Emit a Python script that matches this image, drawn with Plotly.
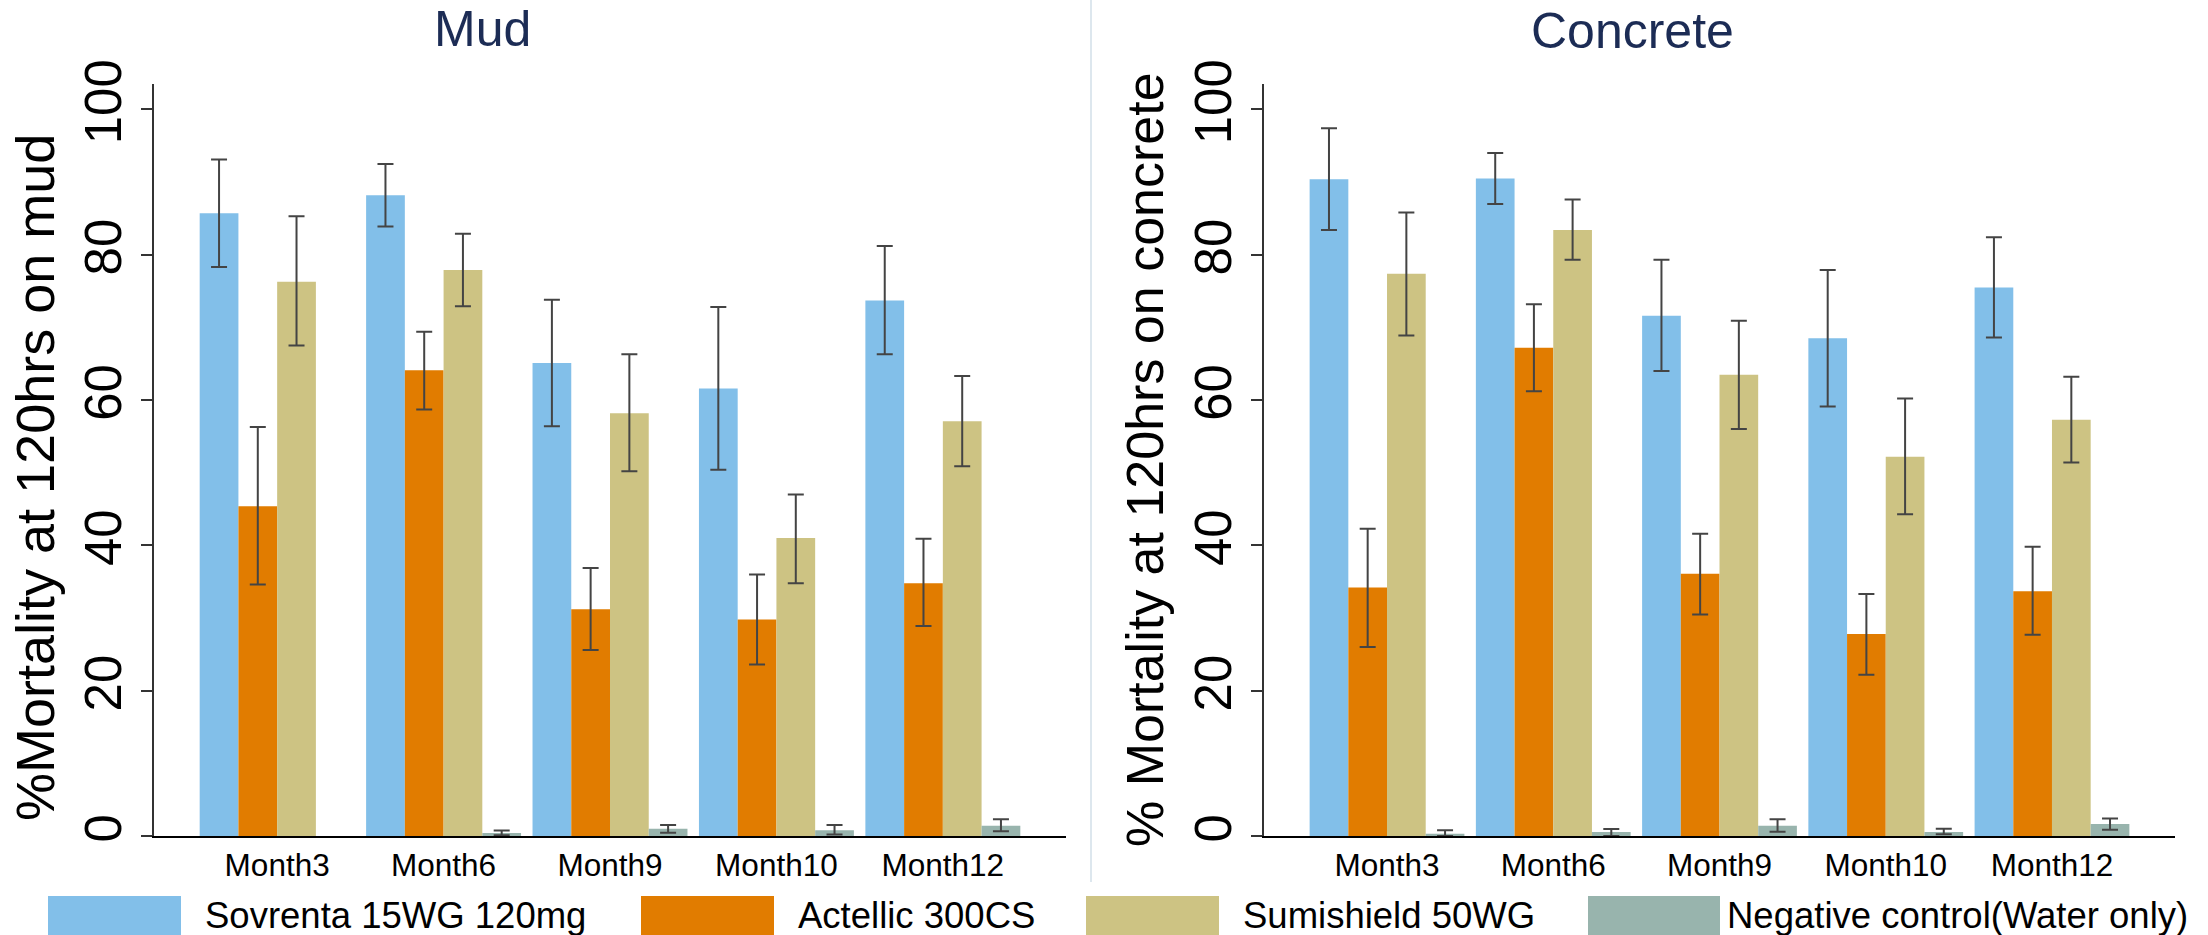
import plotly.graph_objects as go

W, H = 2208, 935

months = ["Month3", "Month6", "Month9", "Month10", "Month12"]
series_names = ["Sovrenta 15WG 120mg", "Actellic 300CS", "Sumishield 50WG",
                "Negative control(Water only)"]
colors = ["#82bfe9", "#e17c00", "#cdc383", "#98b4ad"]

# ---- Mud panel: mean, lower CI, upper CI ----
mud_sovrenta = [85.7, 88.2, 65.1, 61.6, 73.7]
mud_sovrenta_lo = [78.3, 83.9, 56.4, 50.4, 66.3]
mud_sovrenta_hi = [93.1, 92.5, 73.8, 72.8, 81.2]

mud_actellic = [45.4, 64.1, 31.2, 29.8, 34.8]
mud_actellic_lo = [34.6, 58.7, 25.6, 23.6, 28.9]
mud_actellic_hi = [56.3, 69.4, 36.9, 36.0, 40.9]

mud_sumishield = [76.3, 77.9, 58.2, 41.0, 57.1]
mud_sumishield_lo = [67.5, 72.9, 50.2, 34.8, 50.9]
mud_sumishield_hi = [85.3, 82.9, 66.3, 47.0, 63.3]

mud_control = [None, 0.4, 1.0, 0.8, 1.4]
mud_control_lo = [None, 0.1, 0.45, 0.2, 0.65]
mud_control_hi = [None, 0.75, 1.5, 1.5, 2.3]

# ---- Concrete panel ----
con_sovrenta = [90.4, 90.5, 71.6, 68.5, 75.5]
con_sovrenta_lo = [83.4, 87.0, 64.0, 59.1, 68.6]
con_sovrenta_hi = [97.4, 94.0, 79.3, 77.9, 82.4]

con_actellic = [34.2, 67.2, 36.1, 27.8, 33.7]
con_actellic_lo = [26.0, 61.2, 30.5, 22.2, 27.7]
con_actellic_hi = [42.3, 73.2, 41.6, 33.3, 39.8]

con_sumishield = [77.4, 83.4, 63.5, 52.2, 57.3]
con_sumishield_lo = [68.9, 79.3, 56.0, 44.3, 51.4]
con_sumishield_hi = [85.8, 87.6, 70.9, 60.2, 63.2]

con_control = [0.3, 0.55, 1.4, 0.55, 1.65]
con_control_lo = [0.0, 0.0, 0.6, 0.23, 0.87]
con_control_hi = [0.8, 0.96, 2.3, 1.0, 2.4]

y_ticks = [0, 20, 40, 60, 80, 100]

FONT = "Liberation Sans, Arial, Helvetica, sans-serif"
ERR_COLOR = "#444444"

mud = [(mud_sovrenta, mud_sovrenta_lo, mud_sovrenta_hi),
       (mud_actellic, mud_actellic_lo, mud_actellic_hi),
       (mud_sumishield, mud_sumishield_lo, mud_sumishield_hi),
       (mud_control, mud_control_lo, mud_control_hi)]
con = [(con_sovrenta, con_sovrenta_lo, con_sovrenta_hi),
       (con_actellic, con_actellic_lo, con_actellic_hi),
       (con_sumishield, con_sumishield_lo, con_sumishield_hi),
       (con_control, con_control_lo, con_control_hi)]


def err_arrays(v, lo, hi):
    plus = [None if a is None else h - a for a, h in zip(v, hi)]
    minus = [None if a is None else a - l for a, l in zip(v, lo)]
    return plus, minus


fig = go.Figure()
for panel, (xa, ya) in [(mud, ("x", "y")), (con, ("x2", "y2"))]:
    for i, (v, lo, hi) in enumerate(panel):
        plus, minus = err_arrays(v, lo, hi)
        fig.add_trace(go.Bar(
            x=months, y=v, name=series_names[i], xaxis=xa, yaxis=ya,
            marker=dict(color=colors[i], line=dict(width=0)),
            offsetgroup=str(i), showlegend=False,
            error_y=dict(type="data", symmetric=False, array=plus,
                         arrayminus=minus, color=ERR_COLOR,
                         thickness=2, width=8),
        ))


def px_x(p):
    return p / W


def px_y(p):
    return 1 - p / H


yaxis_common = dict(
    range=[0, 103.5], tickvals=y_ticks, tickangle=-90,
    tickfont=dict(family=FONT, size=51, color="#000"),
    showline=True, linecolor="#333", linewidth=2,
    ticks="outside", ticklen=11, tickwidth=2, tickcolor="#333",
    showgrid=False, zeroline=False, ticklabelstandoff=0,
    automargin=False,
    domain=[px_y(836), px_y(84)],
)
xaxis_common = dict(
    type="category", range=[-0.74, 4.74],
    tickfont=dict(family=FONT, size=31.5, color="#000"),
    showline=True, linecolor="#000", linewidth=2, ticks="",
    showgrid=False, zeroline=False, automargin=False,
)

fig.update_layout(
    width=W, height=H,
    margin=dict(l=0, r=0, t=0, b=0, autoexpand=False),
    paper_bgcolor="white", plot_bgcolor="white",
    barmode="group", bargap=0.069, bargroupgap=0,
    showlegend=False,
    font=dict(family=FONT),
    xaxis=dict(domain=[px_x(154), px_x(1066)], anchor="y", **xaxis_common),
    yaxis=dict(anchor="x", **yaxis_common),
    xaxis2=dict(domain=[px_x(1264), px_x(2175)], anchor="y2", **xaxis_common),
    yaxis2=dict(anchor="x2", **yaxis_common),
)

annotations = []
shapes = []
# panel titles
for txt, cx, cy in [("Mud", 482, 29), ("Concrete", 1632, 31)]:
    annotations.append(dict(text=txt, x=px_x(cx), y=px_y(cy), xref="paper",
                            yref="paper", showarrow=False, xanchor="center",
                            yanchor="middle",
                            font=dict(family=FONT, size=50, color="#1c2c55")))
# y-axis titles
for txt, cx, cy, sz in [("%Mortality at 120hrs on mud", 35, 478, 54),
                        ("% Mortality at 120hrs on concrete", 1145, 460, 52)]:
    annotations.append(dict(text=txt, x=px_x(cx), y=px_y(cy), xref="paper",
                            yref="paper", showarrow=False, textangle=-90,
                            xanchor="center", yanchor="middle",
                            font=dict(family=FONT, size=sz, color="#000")))

# separator between panels
shapes.append(dict(type="line", xref="paper", yref="paper",
                   x0=px_x(1091), x1=px_x(1091), y0=px_y(0), y1=px_y(882),
                   line=dict(color="#dde7ee", width=2)))

# legend (swatches + labels)
legend_pos = [(48, 181, 203), (641, 774, 796), (1086, 1219, 1241),
              (1588, 1720, 1725)]
for i, (s0, s1, tx) in enumerate(legend_pos):
    shapes.append(dict(type="rect", xref="paper", yref="paper",
                       x0=px_x(s0), x1=px_x(s1), y0=px_y(896), y1=px_y(936),
                       fillcolor=colors[i], line=dict(width=0)))
    annotations.append(dict(text=series_names[i], x=px_x(tx), y=px_y(915),
                            xref="paper", yref="paper", showarrow=False,
                            xanchor="left", yanchor="middle",
                            font=dict(family=FONT, size=36.5, color="#000")))

fig.update_layout(annotations=annotations, shapes=shapes)
fig.write_html("out.html")
